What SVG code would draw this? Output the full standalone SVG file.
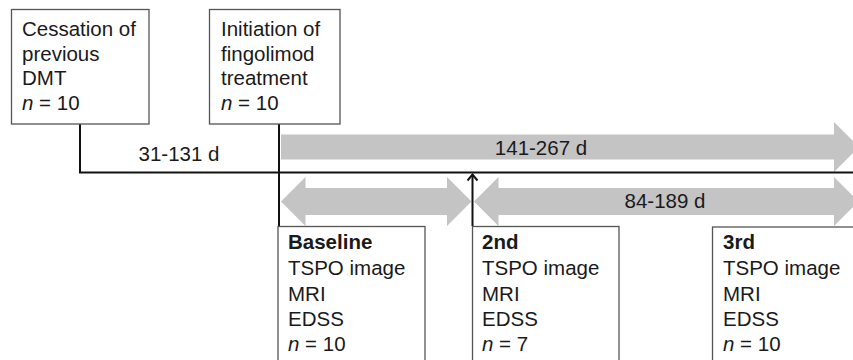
<svg xmlns="http://www.w3.org/2000/svg" width="853" height="360" viewBox="0 0 853 360">
<style>
.box{fill:#fff;stroke:#555;stroke-width:1.3}
.t{font-family:"Liberation Sans",Arial,sans-serif;font-size:20.5px;fill:#1a1a1a}
.b{font-weight:bold}
.ln{stroke:#111;stroke-width:2;fill:none}
.ga{fill:#c4c4c4}
</style>
<defs>
<marker id="up" markerWidth="12" markerHeight="12" refX="9" refY="6" orient="auto" markerUnits="userSpaceOnUse" viewBox="0 0 12 12">
<path d="M3,1 L9,6 L3,11" fill="none" stroke="#111" stroke-width="2"/>
</marker>
</defs>
<rect width="853" height="360" fill="#fff"/>
<g id="connectors">
<polygon class="ga" points="281,134.5 834,134.5 834,122 859,147 834,172 834,159.5 281,159.5"/>
<polygon class="ga" points="281,201.5 305.5,177 305.5,188 447,188 447,177 471.5,201.5 447,226 447,215 305.5,215 305.5,226"/>
<polygon class="ga" points="474,201.5 498.5,177 498.5,188 834,188 834,177 858.5,201.5 834,226 834,215 498.5,215 498.5,226"/>
<path class="ln" d="M80,124 V172.5 H853"/>
<path class="ln" d="M279,124 V226"/>
<line x1="472.5" y1="226" x2="472.5" y2="174.5" stroke="#111" stroke-width="2" marker-end="url(#up)"/>
<text class="t" x="179" y="161" text-anchor="middle">31-131 d</text>
<text class="t" x="541" y="155" text-anchor="middle">141-267 d</text>
<text class="t" x="665" y="208" text-anchor="middle">84-189 d</text>
</g>
<g id="cessation">
<rect class="box" x="11.5" y="9.5" width="137.5" height="114.5"/>
<text class="t" x="22" y="36">Cessation of</text>
<text class="t" x="22" y="60.5">previous</text>
<text class="t" x="22" y="85">DMT</text>
<text class="t" x="22" y="109.5"><tspan font-style="italic">n</tspan> = 10</text>
</g>
<g id="initiation">
<rect class="box" x="209.5" y="9.5" width="130.5" height="114.5"/>
<text class="t" x="221" y="36">Initiation of</text>
<text class="t" x="221" y="60.5">fingolimod</text>
<text class="t" x="221" y="85">treatment</text>
<text class="t" x="221" y="109.5"><tspan font-style="italic">n</tspan> = 10</text>
</g>
<g id="baseline">
<rect class="box" x="278" y="226.5" width="147" height="140"/>
<text class="t b" x="288" y="248.5">Baseline</text>
<text class="t" x="288" y="275">TSPO image</text>
<text class="t" x="288" y="301">MRI</text>
<text class="t" x="288" y="326">EDSS</text>
<text class="t" x="288" y="351"><tspan font-style="italic">n</tspan> = 10</text>
</g>
<g id="second">
<rect class="box" x="472.5" y="226.5" width="146.5" height="140"/>
<text class="t b" x="482" y="248.5">2nd</text>
<text class="t" x="482" y="275">TSPO image</text>
<text class="t" x="482" y="301">MRI</text>
<text class="t" x="482" y="326">EDSS</text>
<text class="t" x="482" y="351"><tspan font-style="italic">n</tspan> = 7</text>
</g>
<g id="third">
<rect class="box" x="712.5" y="227" width="160" height="140"/>
<text class="t b" x="723" y="248.5">3rd</text>
<text class="t" x="723" y="275">TSPO image</text>
<text class="t" x="723" y="301">MRI</text>
<text class="t" x="723" y="326">EDSS</text>
<text class="t" x="723" y="351"><tspan font-style="italic">n</tspan> = 10</text>
</g>
</svg>
